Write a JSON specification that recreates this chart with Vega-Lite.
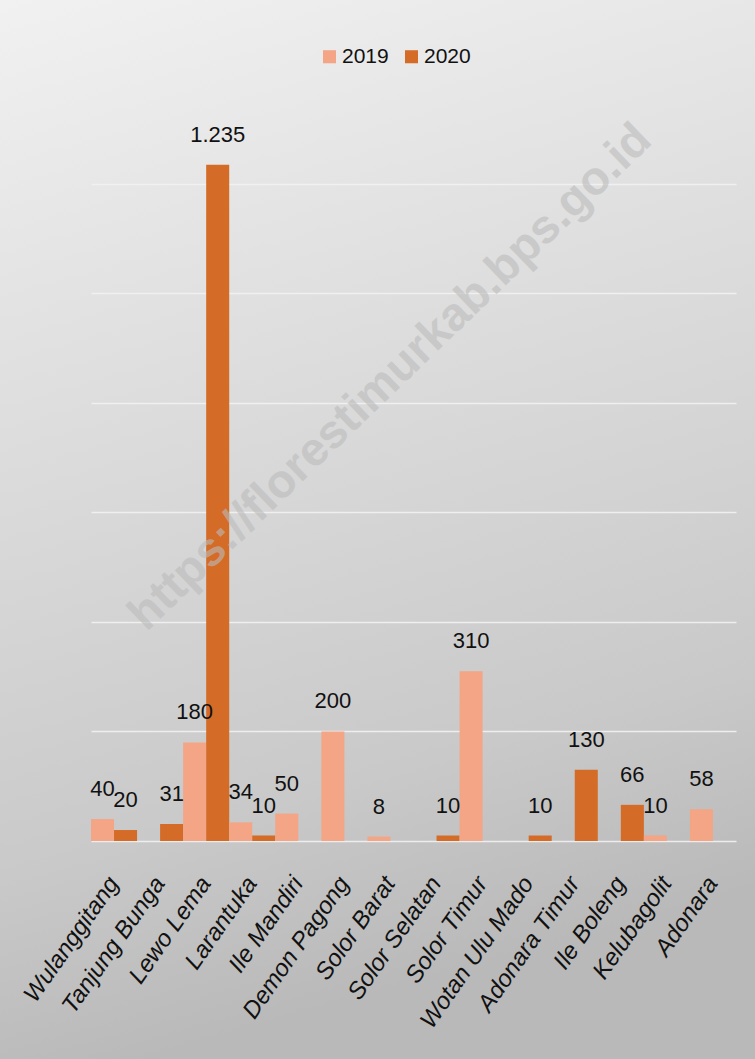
{
  "$schema": "https://vega.github.io/schema/vega-lite/v6.json",
  "autosize": "none",
  "width": 755,
  "height": 1059,
  "padding": 0,
  "background": "#c0c0c0",
  "config": {
    "view": {"stroke": null, "fill": {"gradient": "linear", "x1": 0, "y1": 0, "x2": 0.2, "y2": 1, "stops": [{"offset": 0, "color": "#f1f1f1"}, {"offset": 0.8, "color": "#c9c9c9"}, {"offset": 1, "color": "#b9b9b9"}]}},
    "locale": {"number": {"decimal": ",", "thousands": ".", "grouping": [3], "currency": ["Rp", ""]}},
    "font": "Liberation Sans"
  },
  "data": {"values": [
    {"kecamatan": "Wulanggitang", "tahun": "2019", "jumlah": 40},
    {"kecamatan": "Wulanggitang", "tahun": "2020", "jumlah": 20},
    {"kecamatan": "Tanjung Bunga", "tahun": "2020", "jumlah": 31},
    {"kecamatan": "Lewo Lema", "tahun": "2019", "jumlah": 180},
    {"kecamatan": "Lewo Lema", "tahun": "2020", "jumlah": 1235},
    {"kecamatan": "Larantuka", "tahun": "2019", "jumlah": 34},
    {"kecamatan": "Larantuka", "tahun": "2020", "jumlah": 10},
    {"kecamatan": "Ile Mandiri", "tahun": "2019", "jumlah": 50},
    {"kecamatan": "Demon Pagong", "tahun": "2019", "jumlah": 200},
    {"kecamatan": "Solor Barat", "tahun": "2019", "jumlah": 8},
    {"kecamatan": "Solor Selatan", "tahun": "2020", "jumlah": 10},
    {"kecamatan": "Solor Timur", "tahun": "2019", "jumlah": 310},
    {"kecamatan": "Wotan Ulu Mado", "tahun": "2020", "jumlah": 10},
    {"kecamatan": "Adonara Timur", "tahun": "2020", "jumlah": 130},
    {"kecamatan": "Ile Boleng", "tahun": "2020", "jumlah": 66},
    {"kecamatan": "Kelubagolit", "tahun": "2019", "jumlah": 10},
    {"kecamatan": "Adonara", "tahun": "2019", "jumlah": 58}
  ]},
  "layer": [
    {
      "mark": {"type": "bar"},
      "encoding": {
        "x": {
          "field": "kecamatan", "type": "nominal", "sort": null,
          "scale": {"domain": ["Wulanggitang", "Tanjung Bunga", "Lewo Lema", "Larantuka", "Ile Mandiri", "Demon Pagong", "Solor Barat", "Solor Selatan", "Solor Timur", "Wotan Ulu Mado", "Adonara Timur", "Ile Boleng", "Kelubagolit", "Adonara"], "paddingInner": 0, "paddingOuter": 0, "range": [91, 736]},
          "axis": {"title": null, "offset": -218, "labelAngle": -55, "labelAlign": "right", "labelBaseline": "middle", "labelPadding": 38, "labelFontSize": 24, "labelFont": "Liberation Sans", "labelFontStyle": "italic", "labelColor": "#111111", "ticks": false, "domain": false, "grid": false}
        },
        "xOffset": {"field": "tahun", "type": "nominal", "scale": {"domain": ["2019", "2020"], "paddingInner": 0, "paddingOuter": 0}},
        "y": {
          "field": "jumlah", "type": "quantitative",
          "scale": {"domain": [-398.2, 1536], "nice": false, "zero": true},
          "axis": {"title": null, "labels": false, "ticks": false, "domain": false, "values": [0, 200, 400, 600, 800, 1000, 1200], "gridColor": "#f2f2f2", "gridWidth": 1.5, "gridOpacity": 0.9}
        },
        "color": {"field": "tahun", "type": "nominal", "scale": {"domain": ["2019", "2020"], "range": ["#F3A585", "#D46B27"]},
          "legend": {"title": null, "orient": "none", "legendX": 319, "legendY": 46, "direction": "horizontal", "symbolType": "square", "symbolSize": 170, "labelFontSize": 21, "labelFont": "Liberation Sans", "labelColor": "#111111", "columnPadding": 12, "labelOffset": 2}}
      }
    },
    {
      "mark": {"type": "text", "baseline": "alphabetic", "dy": -23, "fontSize": 22, "color": "#111111"},
      "encoding": {
        "x": {"field": "kecamatan", "type": "nominal", "sort": null},
        "xOffset": {"field": "tahun", "type": "nominal"},
        "y": {"field": "jumlah", "type": "quantitative"},
        "text": {"field": "jumlah", "type": "quantitative", "format": ","}
      }
    },
    {
      "data": {"values": [{"teks": "https://florestimurkab.bps.go.id"}]},
      "mark": {"type": "text", "angle": -44, "fontSize": 47, "fontWeight": "bold", "font": "Liberation Sans", "color": "#bcbcbc", "opacity": 0.6},
      "encoding": {"x": {"datum": "Solor Barat"}, "y": {"datum": 847}, "text": {"field": "teks"}}
    }
  ]
}
